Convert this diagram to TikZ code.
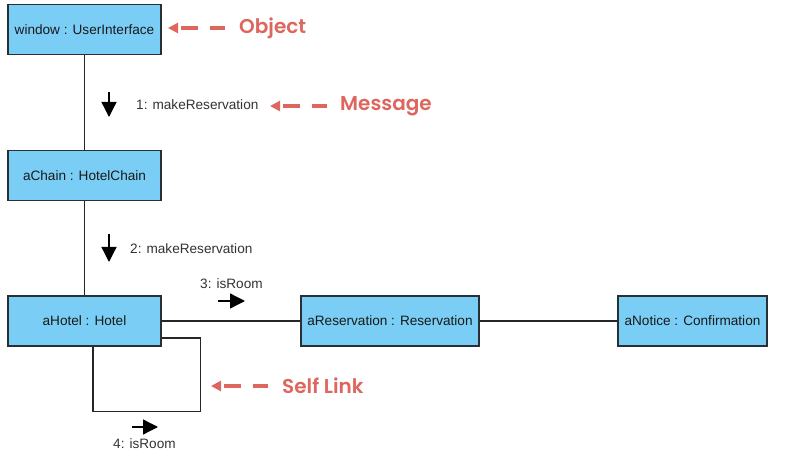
\documentclass[tikz,border=0pt]{standalone}
\usepackage{fontspec}
\setmainfont{Liberation Sans}
\newfontfamily\redfont{Poppins SemiBold}
\usetikzlibrary{arrows.meta}
\definecolor{boxfill}{RGB}{122,206,245}
\definecolor{boxline}{RGB}{40,48,54}
\definecolor{annot}{RGB}{221,102,94}
\definecolor{lbl}{RGB}{50,50,50}
\tikzset{
  obj/.style={draw=boxline, line width=1.3pt, fill=boxfill, inner sep=0pt,
    minimum height=50pt, text=black!90,
    font=\fontsize{13.6}{16}\selectfont},
  link/.style={draw=black!85, line width=1.2pt},
  msgarrow/.style={draw=black, line width=1.3pt, -{Triangle[length=15pt,width=15pt]}},
  msglabel/.style={text=lbl, inner sep=0pt, anchor=west, font=\fontsize{13.6}{16}\selectfont},
  annotarrow/.style={draw=annot, line width=3.5pt, dash pattern=on 15pt off 12pt on 17pt off 30pt,
    -{Triangle[length=10pt,width=10pt]}},
  annotlabel/.style={text=annot, inner sep=0pt, anchor=west, font=\redfont\fontsize{20}{24}\selectfont}
}
\begin{document}
\begin{tikzpicture}[x=1pt,y=-1pt]
\useasboundingbox (0,0) rectangle (804,457);
% objects
\node[obj, minimum width=153pt] (win) at (84.5,29.5) {window : UserInterface};
\node[obj, minimum width=153pt] (chain) at (84.5,175.5) {aChain : HotelChain};
\node[obj, minimum width=153pt] (hotel) at (84.5,321) {aHotel : Hotel};
\node[obj, minimum width=178pt] (res) at (390,321) {aReservation : Reservation};
\node[obj, minimum width=149pt] (notice) at (692.5,321) {aNotice : Confirmation};
% links
\draw[link] (win.south) -- (chain.north);
\draw[link] (chain.south) -- (hotel.north);
\draw[link] (hotel.east) -- (res.west);
\draw[link] (res.east) -- (notice.west);
\coordinate (selfc) at (200.7,411.7);
\draw[link] ([yshift=-17pt]hotel.east) -| (selfc) -| ([xshift=8.5pt]hotel.south);
% messages
\coordinate (m1a) at (109,92);  \coordinate (m1b) at (109,117);
\coordinate (m2a) at (109,234); \coordinate (m2b) at (109,262);
\coordinate (m3a) at (218,301); \coordinate (m3b) at (245,301);
\coordinate (m4a) at (132,427); \coordinate (m4b) at (158,427);
\draw[msgarrow] (m1a) -- (m1b);
\draw[msgarrow] (m2a) -- (m2b);
\draw[msgarrow] (m3a) -- (m3b);
\draw[msgarrow] (m4a) -- (m4b);
\node[msglabel] (l1) at (136,105) {1: makeReservation};
\node[msglabel] (l2) at (130,249) {2: makeReservation};
\node[msglabel] (l3) at (200,284) {3: isRoom};
\node[msglabel] (l4) at (113,444) {4: isRoom};
% annotations
\node[annotlabel] (tObj) at (239,28) {Object};
\node[annotlabel] (tMsg) at (340,106) {Message};
\node[annotlabel] (tSelf) at (282,386) {Self Link};
\coordinate (aObj) at (168,28);
\coordinate (aMsg) at (270,106);
\coordinate (aSelf) at (211,386);
\draw[annotarrow] ([xshift=-14pt]tObj.west) -- (aObj);
\draw[annotarrow] ([xshift=-13pt]tMsg.west) -- (aMsg);
\draw[annotarrow] ([xshift=-14pt]tSelf.west) -- (aSelf);
\end{tikzpicture}
\end{document}
